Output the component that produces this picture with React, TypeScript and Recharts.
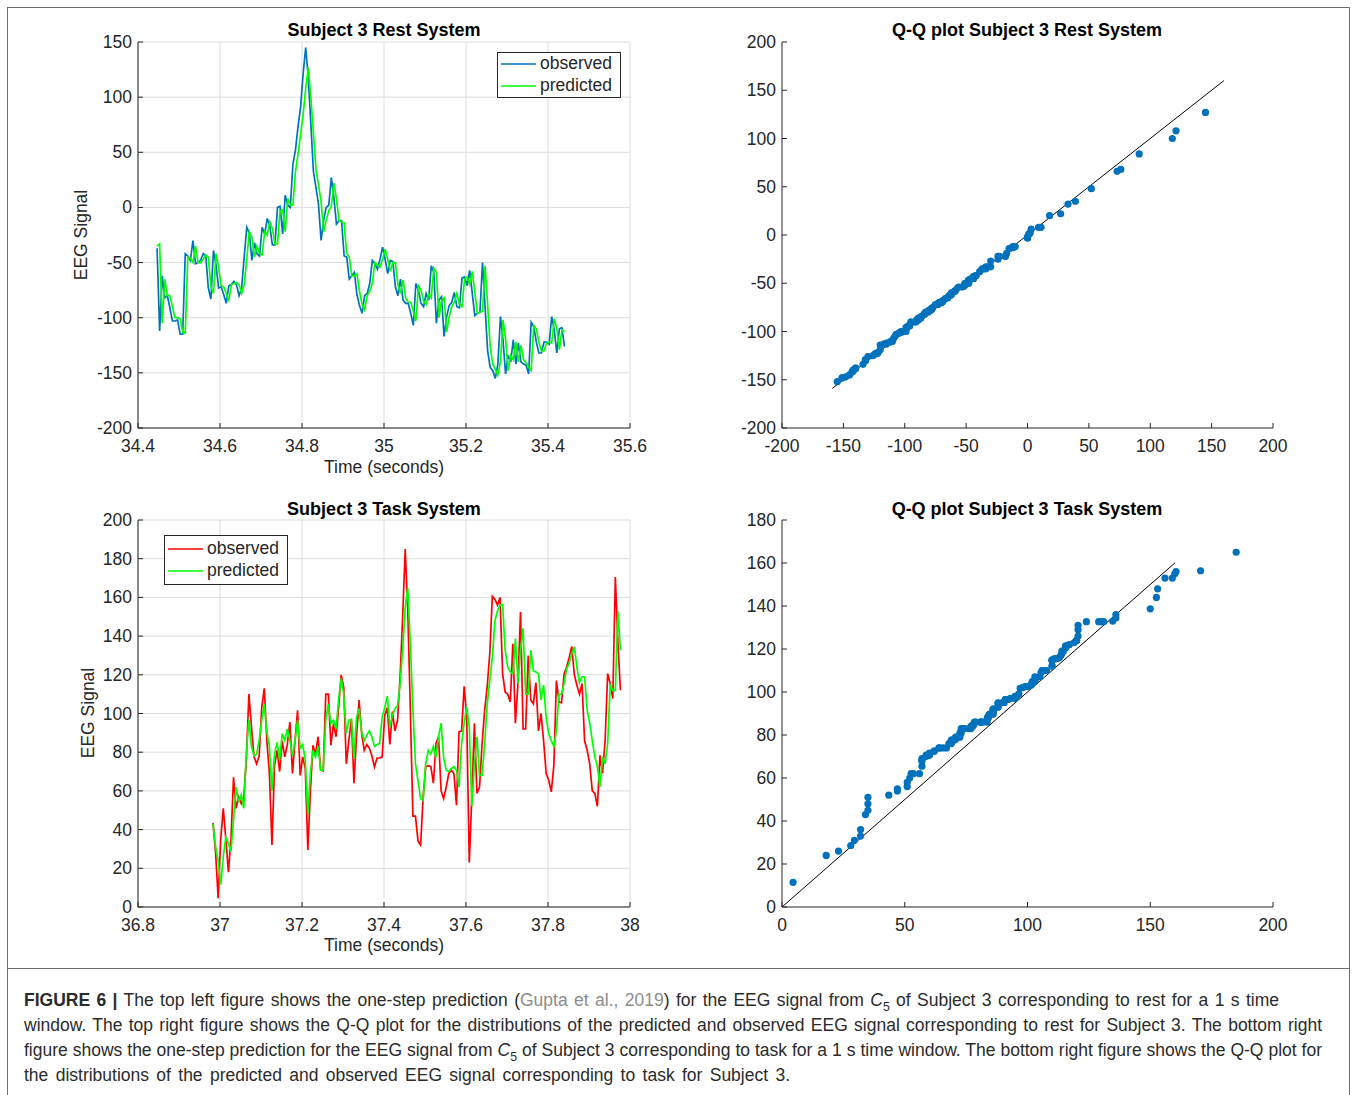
import React from 'react';
import {
  LineChart,
  Line,
  XAxis,
  YAxis,
  CartesianGrid,
  Legend,
  ScatterChart,
  Scatter,
  ReferenceLine,
} from 'recharts';

// ---------------- data ----------------
const SAMPLE_RATE_HZ = 160;
const restStartSec = 34.4465;
const taskStartSec = 36.983;

const restObserved = [
  -37, -112, -62, -82, -80, -91, -103, -103, -102, -115,
  -115, -42, -44, -48, -30, -51, -50, -48, -42, -44,
  -73, -83, -39, -52, -73, -72, -79, -87, -71, -70,
  -67, -70, -80, -73, -45, -18, -23, -48, -32, -42,
  -44, -18, -24, -10, -17, -34, -34, 0, 1, -24,
  11, 2, 0, 39, 52, 73, 91, 121, 145, 118,
  76, 33, 18, 3, -30, -12, 0, 2, 27, 9,
  -15, -12, -12, -44, -45, -65, -62, -59, -79,
  -89, -96, -80, -78, -69, -48, -51, -56, -47, -36,
  -47, -60, -48, -49, -72, -80, -65, -84, -87, -87,
  -96, -107, -69, -75, -87, -90, -78, -84, -53, -59,
  -105, -84, -81, -117, -99, -89, -86, -77, -90, -91,
  -64, -63, -71, -57, -78, -98, -96, -95, -50, -90,
  -130, -145, -148, -155, -142, -99, -120, -151, -134, -140,
  -120, -142, -123, -140, -142, -143, -151, -104, -108, -122,
  -132, -132, -122, -122, -124, -99, -111, -132, -110, -109,
  -126,
];

const restPredicted = [
  -35, -33, -105, -65, -80, -80, -90, -100, -100, -101,
  -113, -114, -45, -46, -50, -35, -50, -50, -47, -43,
  -45, -72, -78, -42, -54, -71, -72, -78, -84, -70,
  -69, -68, -70, -78, -70, -47, -22, -27, -45, -35,
  -42, -43, -22, -25, -13, -19, -33, -33, -3, -2,
  -22, 8, 2, 2, 32, 48, 66, 84, 108, 127,
  100, 68, 35, 20, 6, -22, -12, -3, 1, 22,
  8, -12, -13, -14, -42, -45, -62, -62, -60,
  -76, -88, -93, -80, -76, -69, -50, -52, -54, -47,
  -38, -47, -58, -50, -50, -70, -78, -66, -82, -86,
  -86, -94, -103, -71, -75, -85, -88, -78, -82, -55,
  -59, -100, -85, -82, -113, -99, -90, -86, -78, -88,
  -90, -65, -63, -70, -58, -77, -96, -95, -94, -53,
  -88, -126, -142, -147, -152, -140, -102, -119, -148, -134,
  -138, -122, -140, -125, -138, -141, -145, -148, -107, -110,
  -122, -130, -130, -123, -122, -123, -101, -110, -129, -111,
  -112,
];

const taskObserved = [
  43.5, 28, 4.5, 35, 51, 35, 18, 35, 67, 51,
  57, 53.5, 57, 76, 110, 93, 77.6, 74, 78, 103,
  113, 86, 69, 32, 73, 81, 70, 86, 77.6, 84,
  95.6, 69, 86, 101.6, 68, 77.6, 71.5, 29.5, 60, 83.6,
  79, 88, 70.7, 70.3, 110, 110, 83.6, 94.7, 88, 103,
  120, 113.6, 74, 86, 97, 64, 88, 107, 89.6, 81,
  84, 82, 78, 72.4, 77, 77, 77.6, 99, 103, 84,
  101, 91, 96.5,
  119, 150, 185, 153, 102, 47, 47, 34, 32, 57, 72.5,
  73, 72.5, 64, 84.5, 88, 60, 56, 62, 69, 70.7,
  69, 52.6, 90.5, 91, 114, 98, 23, 57, 95, 58.7,
  62, 84.5, 101.7, 114, 131, 160.5, 159, 156, 160, 120.6,
  111, 110, 106, 136, 95, 115.5, 152.5, 92, 92, 130,
  107, 105, 116, 91, 100, 86, 69, 65.5, 59.5, 73,
  117, 106, 105.5, 120.6, 124, 129, 134.7, 120, 114.6, 110,
  115.5, 86, 81, 74, 60, 58.7, 52, 78.4, 69, 86,
  120.6, 115.5, 107.7, 170.5, 136, 112,
];

const taskPredicted = [
  43, 31, 24, 11.5, 26, 36, 33, 28.6, 45, 62,
  54, 58, 51, 80, 97, 83, 78, 79, 86, 96.5,
  105, 90.5, 83, 60, 79, 85, 76, 89.6, 86, 92,
  86, 78, 86, 96.5, 82, 84, 76, 48, 69, 81,
  77.6, 83, 70.7, 70.7, 96.5, 105, 94.7, 96.5, 92, 107,
  118, 110, 89.6, 96.5, 97, 76.7, 98, 102.5, 90.5, 86,
  88.7, 91, 88, 83, 84, 84.4, 98, 103, 109, 93,
  99, 102.5, 104,
  115, 133, 155, 165, 136, 102, 74, 65.5, 56, 55,
  74, 81, 79, 83, 77, 88, 95, 77, 70.7, 70,
  71.6, 72.5, 70.7, 62, 84.5, 95, 103.4, 93, 52, 74,
  88, 68, 68, 84.5, 105, 117, 129, 148, 153, 156,
  156.4, 132.7, 124, 121.5, 120.6, 138.7, 115.5, 132.7, 144, 110,
  110, 132.7, 122, 121.5, 120.6, 107, 114.6, 98, 89.6, 86,
  83, 91, 110, 110, 115.5, 123, 126, 131, 134.4, 124,
  116, 119, 119, 101.7, 95, 86, 77.6, 72.5, 62, 77.6,
  74, 84.5, 114.6, 112, 112, 153, 132.7,
];

const restTimeTicks = [34.4, 34.6, 34.8, 35, 35.2, 35.4, 35.6];
const restSignalTicks = [-200, -150, -100, -50, 0, 50, 100, 150];
const taskTimeTicks = [36.8, 37, 37.2, 37.4, 37.6, 37.8, 38];
const taskSignalTicks = [0, 20, 40, 60, 80, 100, 120, 140, 160, 180, 200];
const restQQTicks = [-200, -150, -100, -50, 0, 50, 100, 150, 200];
const taskQQXTicks = [0, 50, 100, 150, 200];
const taskQQYTicks = [0, 20, 40, 60, 80, 100, 120, 140, 160, 180];
const restQQRefLine = [-159, 160];
const taskQQRefLine = [0, 160];

const toSeries = (start: number, obs: number[], pred: number[]) =>
  obs.map((o, i) => ({ t: start + i / SAMPLE_RATE_HZ, observed: o, predicted: pred[i] }));

const toQQ = (obs: number[], pred: number[]) => {
  const a = [...obs].sort((p, q) => p - q);
  const b = [...pred].sort((p, q) => p - q);
  return a.map((v, i) => ({ x: v, y: b[i] }));
};

const restSeries = toSeries(restStartSec, restObserved, restPredicted);
const taskSeries = toSeries(taskStartSec, taskObserved, taskPredicted);
const restQQ = toQQ(restObserved, restPredicted);
const taskQQ = toQQ(taskObserved, taskPredicted);

// ---------------- style ----------------
const FONT = '"Liberation Sans", Arial, Helvetica, sans-serif';
const TEXT = '#262626';
const AXIS = '#262626';
const GRID = '#dcdcdc';
const FS = 17.5;
const TICK_LEN = 5;
const BLUE = '#0072BD';
const GREEN = '#00FF00';
const RED = '#FF0000';
const LINE_W = 1.7;

const fmt = (v: number) => String(Number(Number(v).toFixed(2)));

const LeftTick = (p: any) => (
  <g>
    <line x1={p.x} y1={p.y} x2={p.x + TICK_LEN} y2={p.y} stroke={AXIS} strokeWidth={1} />
    <text x={p.x - 6} y={p.y + 6} textAnchor="end" fontSize={FS} fill={TEXT} fontFamily={FONT}>
      {fmt(p.payload.value)}
    </text>
  </g>
);
const RightTick = (p: any) => (
  <line x1={p.x} y1={p.y} x2={p.x - TICK_LEN} y2={p.y} stroke={AXIS} strokeWidth={1} />
);
const BottomTick = (p: any) => (
  <g>
    <line x1={p.x} y1={p.y} x2={p.x} y2={p.y - TICK_LEN} stroke={AXIS} strokeWidth={1} />
    <text x={p.x} y={p.y + 24} textAnchor="middle" fontSize={FS} fill={TEXT} fontFamily={FONT}>
      {fmt(p.payload.value)}
    </text>
  </g>
);
const TopTick = (p: any) => (
  <line x1={p.x} y1={p.y} x2={p.x} y2={p.y + TICK_LEN} stroke={AXIS} strokeWidth={1} />
);

const makeLegend = (padTop: number, rowH: number) => (props: any) => (
  <div
    style={{
      border: `1px solid ${AXIS}`,
      background: '#fff',
      padding: `${padTop}px 8px ${padTop}px 3px`,
      display: 'inline-block',
      fontFamily: FONT,
    }}
  >
    {(props.payload || []).map((e: any) => (
      <div key={e.value} style={{ display: 'flex', alignItems: 'center', height: rowH }}>
        <svg width={35} height={4} style={{ display: 'block' }}>
          <line x1={0} y1={2} x2={35} y2={2} stroke={e.color} strokeWidth={1.5} />
        </svg>
        <span style={{ marginLeft: 4, fontSize: FS, color: TEXT, lineHeight: 1 }}>{e.value}</span>
      </div>
    ))}
  </div>
);

const Txt = ({ x, y, size = FS, bold = false, rotate = false, children }: any) => (
  <div
    style={{
      position: 'absolute',
      left: x,
      top: y,
      transform: `translate(-50%, -50%)${rotate ? ' rotate(-90deg)' : ''}`,
      fontSize: size,
      fontWeight: bold ? 700 : 400,
      color: bold ? '#000' : TEXT,
      fontFamily: FONT,
      whiteSpace: 'nowrap',
      lineHeight: 1,
    }}
  >
    {children}
  </div>
);

function TimePanel(props: any) {
  const { top, plotH, data, obsColor, xDomain, xTicks, yDomain, yTicks, legendLeft, legendTop, legendPad, legendRow } = props;
  return (
    <div style={{ position: 'absolute', left: 0, top }}>
      <LineChart width={680} height={42 + plotH + 62} data={data} margin={{ top: 42, right: 50, bottom: 0, left: 0 }}>
        <CartesianGrid xAxisId="b" yAxisId="l" stroke={GRID} strokeWidth={1} />
        <XAxis xAxisId="b" dataKey="t" type="number" domain={xDomain} ticks={xTicks} interval={0} allowDataOverflow
          height={62} tickSize={0} tickMargin={0} tickLine={false} axisLine={{ stroke: AXIS }} tick={BottomTick} />
        <XAxis xAxisId="t" orientation="top" dataKey="t" type="number" domain={xDomain} ticks={xTicks} interval={0} allowDataOverflow
          height={0} tickSize={0} tickMargin={0} tickLine={false} axisLine={{ stroke: AXIS }} tick={TopTick} />
        <YAxis yAxisId="l" type="number" domain={yDomain} ticks={yTicks} interval={0} allowDataOverflow
          width={138} tickSize={0} tickMargin={0} tickLine={false} axisLine={{ stroke: AXIS }} tick={LeftTick} />
        <YAxis yAxisId="r" orientation="right" type="number" domain={yDomain} ticks={yTicks} interval={0} allowDataOverflow
          width={0} tickSize={0} tickMargin={0} tickLine={false} axisLine={{ stroke: AXIS }} tick={RightTick} />
        <Line xAxisId="b" yAxisId="l" type="linear" dataKey="observed" name="observed" stroke={obsColor}
          strokeWidth={LINE_W} dot={false} isAnimationActive={false} />
        <Line xAxisId="b" yAxisId="l" type="linear" dataKey="predicted" name="predicted" stroke={GREEN}
          strokeWidth={LINE_W} dot={false} isAnimationActive={false} />
        <Legend layout="horizontal" verticalAlign="middle" align="center"
          wrapperStyle={{ left: legendLeft, top: legendTop, width: 'auto', height: 'auto' }}
          content={makeLegend(legendPad, legendRow)} />
      </LineChart>
    </div>
  );
}

function QQPanel(props: any) {
  const { top, plotH, data, xDomain, xTicks, yDomain, yTicks, refLine } = props;
  return (
    <div style={{ position: 'absolute', left: 700, top }}>
      <ScatterChart width={600} height={42 + plotH + 62} margin={{ top: 42, right: 27, bottom: 0, left: 0 }}>
        <XAxis xAxisId="b" dataKey="x" type="number" domain={xDomain} ticks={xTicks} interval={0} allowDataOverflow
          height={62} tickSize={0} tickMargin={0} tickLine={false} axisLine={{ stroke: AXIS }} tick={BottomTick} />
        <YAxis yAxisId="l" dataKey="y" type="number" domain={yDomain} ticks={yTicks} interval={0} allowDataOverflow
          width={82} tickSize={0} tickMargin={0} tickLine={false} axisLine={{ stroke: AXIS }} tick={LeftTick} />
        <ReferenceLine xAxisId="b" yAxisId="l" ifOverflow="visible"
          segment={[{ x: refLine[0], y: refLine[0] }, { x: refLine[1], y: refLine[1] }]}
          stroke="#000" strokeWidth={1} />
        <Scatter xAxisId="b" yAxisId="l" data={data} fill={BLUE} isAnimationActive={false}
          shape={(s: any) => <circle cx={s.cx} cy={s.cy} r={3.6} fill={BLUE} />} />
      </ScatterChart>
    </div>
  );
}

const CAP_FS = 17.5;
const CAP_COLOR = '#2b2b2b';
const C5 = (
  <span>
    <i>C</i>
    <sub style={{ fontSize: '0.7em' }}>5</sub>
  </span>
);

function CaptionLine({ top, target, children }: any) {
  const ref = React.useRef<HTMLSpanElement>(null);
  const [ws, setWs] = React.useState(0);
  React.useLayoutEffect(() => {
    const el = ref.current;
    if (!el) return;
    el.style.wordSpacing = '0px';
    const w = el.getBoundingClientRect().width;
    const spaces = (el.textContent || '').split(' ').length - 1;
    setWs(spaces ? (target - w) / spaces : 0);
  }, [target]);
  return (
    <div
      style={{
        position: 'absolute',
        left: 24,
        top,
        height: 25,
        lineHeight: '25px',
        fontSize: CAP_FS,
        color: CAP_COLOR,
        fontFamily: FONT,
        whiteSpace: 'nowrap',
      }}
    >
      <span ref={ref} style={{ wordSpacing: ws }}>
        {children}
      </span>
    </div>
  );
}

export default function App() {
  return (
    <div style={{ position: 'absolute', left: 0, top: 0, width: 1356, height: 1095, background: '#fff', overflow: 'hidden' }}>
      {/* frame */}
      <div style={{ position: 'absolute', left: 7, top: 7, width: 1343, height: 1, background: '#6f6f6f' }} />
      <div style={{ position: 'absolute', left: 7, top: 7, width: 1, height: 1088, background: '#6f6f6f' }} />
      <div style={{ position: 'absolute', left: 1349, top: 7, width: 1, height: 1088, background: '#6f6f6f' }} />
      <div style={{ position: 'absolute', left: 7, top: 968, width: 1343, height: 1, background: '#6f6f6f' }} />

      <TimePanel top={0} plotH={386} data={restSeries} obsColor={BLUE} xDomain={[34.4, 35.6]} xTicks={restTimeTicks}
        yDomain={[-200, 150]} yTicks={restSignalTicks} legendLeft={497} legendTop={52} legendPad={0} legendRow={22} />
      <TimePanel top={478} plotH={387} data={taskSeries} obsColor={RED} xDomain={[36.8, 38]} xTicks={taskTimeTicks}
        yDomain={[0, 200]} yTicks={taskSignalTicks} legendLeft={164} legendTop={57} legendPad={2} legendRow={22} />
      <QQPanel top={0} plotH={386} data={restQQ} xDomain={[-200, 200]} xTicks={restQQTicks}
        yDomain={[-200, 200]} yTicks={restQQTicks} refLine={restQQRefLine} />
      <QQPanel top={478} plotH={387} data={taskQQ} xDomain={[0, 200]} xTicks={taskQQXTicks}
        yDomain={[0, 180]} yTicks={taskQQYTicks} refLine={taskQQRefLine} />

      <Txt x={384} y={30} size={18} bold>Subject 3 Rest System</Txt>
      <Txt x={1027} y={30} size={18} bold>Q-Q plot Subject 3 Rest System</Txt>
      <Txt x={384} y={509} size={18} bold>Subject 3 Task System</Txt>
      <Txt x={1027} y={509} size={18} bold>Q-Q plot Subject 3 Task System</Txt>
      <Txt x={82} y={235} rotate>EEG Signal</Txt>
      <Txt x={89} y={713} rotate>EEG Signal</Txt>
      <Txt x={384} y={468}>Time (seconds)</Txt>
      <Txt x={384} y={946}>Time (seconds)</Txt>

      <CaptionLine top={988} target={1255}>
        <b>FIGURE 6 |</b> The top left figure shows the one-step prediction (<span style={{ color: '#8c8c8c' }}>Gupta et al., 2019</span>) for the EEG signal from {C5} of Subject 3 corresponding to rest for a 1 s time
      </CaptionLine>
      <CaptionLine top={1013} target={1298}>
        window. The top right figure shows the Q-Q plot for the distributions of the predicted and observed EEG signal corresponding to rest for Subject 3. The bottom right
      </CaptionLine>
      <CaptionLine top={1038} target={1298}>
        figure shows the one-step prediction for the EEG signal from {C5} of Subject 3 corresponding to task for a 1 s time window. The bottom right figure shows the Q-Q plot for
      </CaptionLine>
      <CaptionLine top={1063} target={766}>
        the distributions of the predicted and observed EEG signal corresponding to task for Subject 3.
      </CaptionLine>
    </div>
  );
}
